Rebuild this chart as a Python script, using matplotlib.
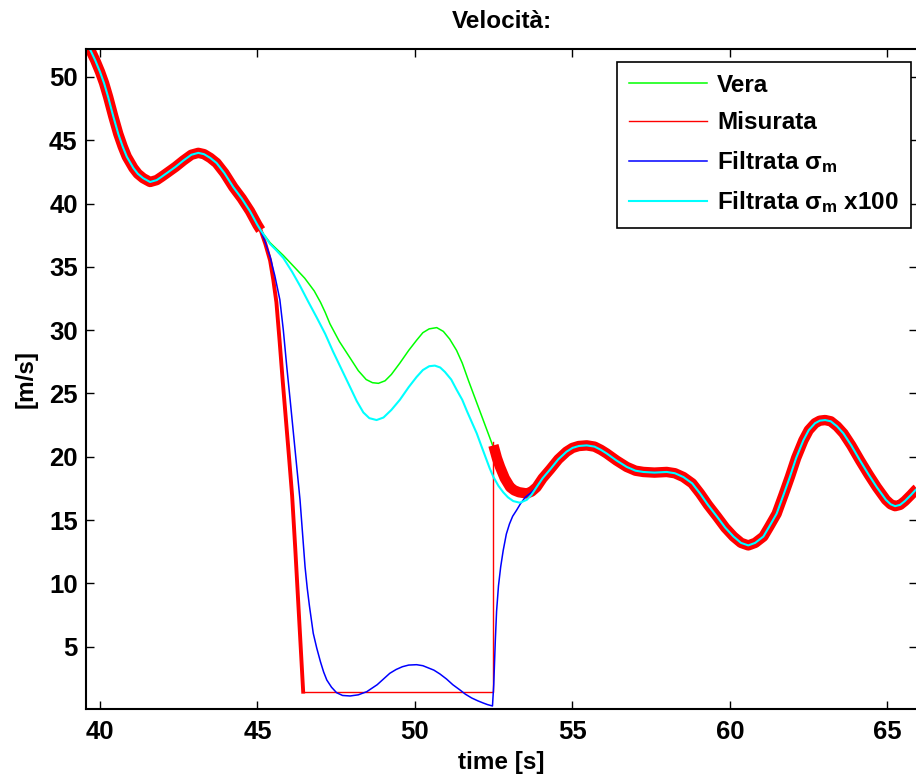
import matplotlib
matplotlib.use("Agg")
import matplotlib.pyplot as plt

plt.rcParams['font.family'] = ['Liberation Sans', 'DejaVu Sans']
plt.rcParams['font.weight'] = 'bold'
plt.rcParams['mathtext.fontset'] = 'custom'
plt.rcParams['mathtext.rm'] = 'Liberation Sans:bold'
plt.rcParams['mathtext.it'] = 'Liberation Sans:bold'
plt.rcParams['mathtext.bf'] = 'Liberation Sans:bold'

# tratto comune (tutte le curve coincidono)
t_start = [39.55, 39.68, 39.85, 40.0, 40.13, 40.26, 40.42, 40.58, 40.72, 40.85, 41.06,
           41.2, 41.37, 41.59, 41.8, 41.95, 42.12, 42.4, 42.65, 42.9, 43.12, 43.3,
           43.5, 43.7, 43.95, 44.23, 44.5, 44.76, 45.0, 45.1]
v_start = [52.9, 52.2, 51.3, 50.4, 49.5, 48.4, 46.9, 45.5, 44.5, 43.7, 42.8,
           42.35, 42.0, 41.7, 41.85, 42.1, 42.4, 42.9, 43.4, 43.85, 44.0, 43.9,
           43.6, 43.2, 42.4, 41.3, 40.4, 39.4, 38.3, 37.9]

t_end = [53.86, 54.05, 54.29, 54.55, 54.81, 55.0, 55.2, 55.45, 55.7, 55.9, 56.08,
         56.4, 56.72, 57.0, 57.25, 57.6, 57.99, 58.25, 58.52, 58.8, 59.05, 59.3,
         59.58, 59.85, 60.11, 60.35, 60.58, 60.8, 61.06, 61.25, 61.48, 61.7, 61.9,
         62.1, 62.33, 62.5, 62.7, 62.85, 63.02, 63.2, 63.4, 63.6, 63.85, 64.13,
         64.4, 64.66, 64.95, 65.1, 65.24, 65.4, 65.55, 65.75, 65.9, 66.0]
v_end = [17.6, 18.3, 19.0, 19.8, 20.4, 20.7, 20.85, 20.9, 20.8, 20.55, 20.27,
         19.7, 19.2, 18.9, 18.8, 18.75, 18.8, 18.7, 18.4, 17.9, 17.1, 16.2,
         15.3, 14.4, 13.7, 13.2, 13.0, 13.2, 13.7, 14.5, 15.5, 17.0, 18.4,
         19.9, 21.3, 22.1, 22.65, 22.85, 22.9, 22.8, 22.4, 21.85, 20.9, 19.7,
         18.6, 17.6, 16.6, 16.25, 16.1, 16.2, 16.5, 17.0, 17.4, 17.6]

# Vera
t_vera = [45.4, 45.82, 46.2, 46.5, 46.8, 47.0, 47.15, 47.3, 47.6, 47.94, 48.2,
          48.45, 48.65, 48.84, 49.05, 49.25, 49.52, 49.8, 50.05, 50.25, 50.45, 50.69,
          50.9, 51.1, 51.32, 51.5, 51.7, 51.85, 52.0, 52.15, 52.3, 52.45, 52.6,
          52.75, 52.9, 53.05, 53.2, 53.4, 53.6, 53.75]
v_vera = [36.9, 35.9, 34.9, 34.1, 33.1, 32.2, 31.4, 30.5, 29.1, 27.8, 26.8,
          26.1, 25.85, 25.8, 26.0, 26.5, 27.4, 28.4, 29.2, 29.8, 30.1, 30.2,
          29.9, 29.3, 28.4, 27.4, 26.0, 25.0, 24.0, 23.0, 22.0, 21.0, 20.0,
          19.1, 18.3, 17.7, 17.35, 17.15, 17.15, 17.35]

# Misurata: caduta, tratto piatto (guasto), ripresa
t_drop = [45.1, 45.25, 45.4, 45.5, 45.6, 45.7, 45.8, 45.9, 46.0, 46.1, 46.2, 46.3, 46.45]
v_drop = [37.9, 36.8, 35.5, 34.0, 32.2, 29.2, 26.0, 23.0, 20.0, 16.9, 12.7, 8.2, 1.45]
t_flat = [46.45, 52.49, 52.49]
v_flat = [1.45, 1.45, 21.2]
t_rec = [52.49, 52.6, 52.7, 52.85, 53.02, 53.15, 53.3, 53.55, 53.7]
v_rec = [20.9, 19.9, 19.2, 18.3, 17.6, 17.35, 17.2, 17.1, 17.25]

# Filtrata sigma_m
t_filt = [45.25, 45.4, 45.55, 45.71, 45.82, 45.93, 46.04, 46.14, 46.25, 46.35, 46.43,
          46.51, 46.58, 46.65, 46.77, 46.88, 47.0, 47.1, 47.2, 47.35, 47.51, 47.7,
          47.94, 48.2, 48.47, 48.8, 49.0, 49.2, 49.4, 49.6, 49.8, 50.05, 50.25,
          50.4, 50.6, 50.79, 51.0, 51.2, 51.43, 51.6, 51.8, 52.0, 52.17, 52.3,
          52.46, 52.5, 52.55, 52.59, 52.65, 52.72, 52.8, 52.9, 53.0, 53.1, 53.23,
          53.35, 53.5, 53.7]
v_filt = [36.9, 35.8, 34.3, 32.4, 30.0, 27.1, 24.4, 21.85, 19.1, 16.6, 13.9,
          11.3, 9.6, 8.2, 6.06, 4.9, 3.8, 3.0, 2.37, 1.8, 1.37, 1.15,
          1.11, 1.2, 1.45, 2.0, 2.45, 2.9, 3.2, 3.42, 3.55, 3.58, 3.5,
          3.35, 3.15, 2.85, 2.45, 2.0, 1.58, 1.25, 0.95, 0.72, 0.55, 0.43,
          0.32, 2.0, 5.5, 7.8, 9.8, 11.3, 12.6, 13.9, 14.7, 15.3, 15.8,
          16.3, 16.8, 17.2]

# Filtrata sigma_m x100
t_f100 = [45.4, 45.6, 45.82, 46.1, 46.35, 46.6, 46.88, 47.15, 47.4, 47.67, 47.94,
          48.15, 48.36, 48.55, 48.78, 49.0, 49.25, 49.52, 49.8, 50.05, 50.25, 50.45,
          50.63, 50.8, 50.95, 51.15, 51.32, 51.5, 51.65, 51.8, 51.96, 52.1, 52.25,
          52.37, 52.49, 52.65, 52.8, 52.95, 53.12, 53.33, 53.55, 53.7]
v_f100 = [36.8, 36.3, 35.7, 34.6, 33.5, 32.3, 31.0, 29.7, 28.3, 26.9, 25.5,
          24.4, 23.5, 23.05, 22.9, 23.1, 23.7, 24.5, 25.5, 26.3, 26.85, 27.15,
          27.2, 27.05, 26.7, 26.1, 25.3, 24.5, 23.6, 22.75, 21.85, 20.9, 19.9,
          19.1, 18.4, 17.7, 17.2, 16.8, 16.5, 16.37, 16.6, 17.0]

fig = plt.figure(figsize=(9.16, 7.77), dpi=100)
ax = fig.add_axes([0.0939, 0.0875, 0.9072, 0.8494])

green = '#00ff00'
red = '#ff0000'
blue = '#0000ff'
cyan = '#00ffff'

ax.plot(t_start + t_vera + t_end, v_start + v_vera + v_end, color=green, lw=1.1, label='Vera')

ax.plot(t_flat, v_flat, color=red, lw=1.0, label='Misurata')
ax.plot(t_start, v_start, color=red, lw=7.5, solid_capstyle='butt')
ax.plot(t_drop, v_drop, color=red, lw=2.8)
ax.plot(t_rec + t_end, v_rec + v_end, color=red, lw=7.5, solid_capstyle='butt')

ax.plot(t_start + t_filt + t_end, v_start + v_filt + v_end, color=blue, lw=1.1,
        label='Filtrata σ$_\\mathregular{m}$')
ax.plot(t_start + t_f100 + t_end, v_start + v_f100 + v_end, color=cyan, lw=1.5,
        label='Filtrata σ$_\\mathregular{m}$ x100')

ax.set_xlim(39.556, 65.937)
ax.set_ylim(0.08, 52.2)
ax.set_xticks([40, 45, 50, 55, 60, 65])
ax.set_yticks([5, 10, 15, 20, 25, 30, 35, 40, 45, 50])
ax.tick_params(direction='in', length=6, width=1.0, top=True, right=True,
               labelsize=18.5)
ax.tick_params(axis='x', pad=8)
ax.tick_params(axis='y', pad=6)
for s in ax.spines.values():
    s.set_linewidth(1.5)

ax.set_title('Velocità:', fontsize=17.5, fontweight='bold', pad=15)
ax.set_xlabel('time [s]', fontsize=17.5, fontweight='bold', labelpad=5)
ax.set_ylabel('[m/s]', fontsize=17.5, fontweight='bold', labelpad=8)

leg = ax.legend(loc='upper right', bbox_to_anchor=(0.9945, 0.9206),
                bbox_transform=fig.transFigure, borderaxespad=0,
                fontsize=17.5, fancybox=False, framealpha=1, edgecolor='black',
                handlelength=3.2, handletextpad=0.42, labelspacing=0.6,
                borderpad=0.5)
leg.get_frame().set_linewidth(1.2)

fig.savefig('out.png', dpi=100)
